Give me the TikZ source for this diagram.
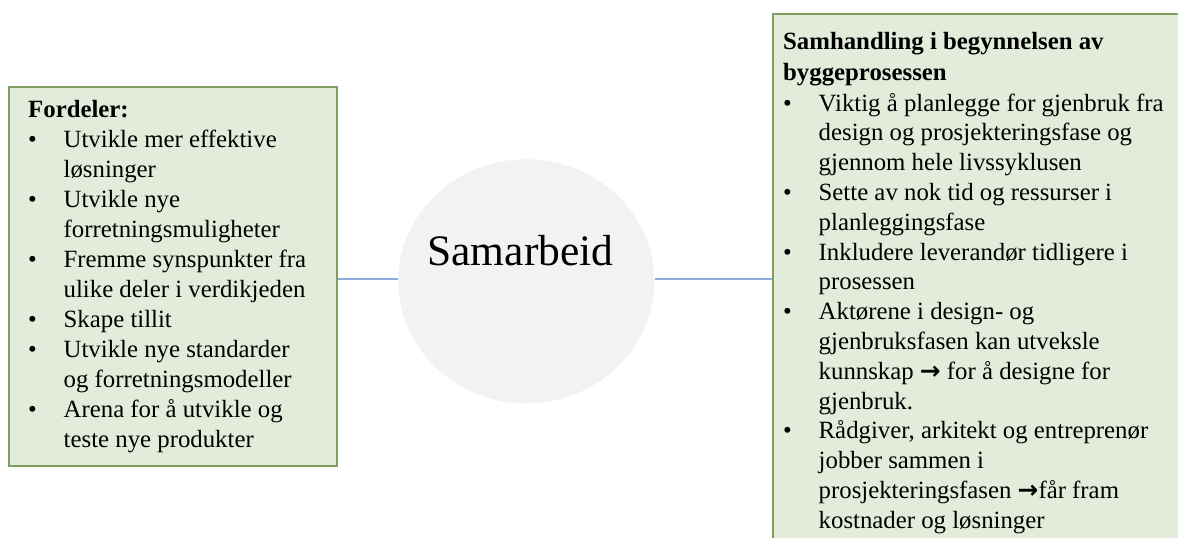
\documentclass[tikz,border=0pt]{standalone}
\usepackage{fontspec}
\setmainfont{Liberation Serif}
\newfontfamily\arrowfont{DejaVu Sans}
\usetikzlibrary{shapes.geometric}
\definecolor{boxfill}{RGB}{227,236,218}
\definecolor{boxline}{RGB}{128,160,98}
\definecolor{hubfill}{RGB}{242,242,242}
\definecolor{linkblue}{RGB}{143,170,220}
\newcommand{\rarr}{{\arrowfont\bfseries →}}

\begin{document}
\begin{tikzpicture}[x=1pt,y=-1pt,
  panel/.style={draw=boxline, fill=boxfill, line width=2pt, rectangle, inner sep=0pt},
  hub/.style={ellipse, fill=hubfill, draw=none, inner sep=0pt,
              minimum width=256pt, minimum height=244pt},
  link/.style={draw=linkblue, line width=1.3pt},
  body/.style={inner sep=0pt, anchor=base west, align=left}]
\useasboundingbox (0,0) rectangle (1178,538);
\clip (0,0) rectangle (1178,538);

% the two text panels
\node[panel, minimum width=328pt, minimum height=379.2pt, anchor=north west] (lbox) at (8.2,85.8) {};
\node[panel, minimum width=430pt, minimum height=560pt, anchor=north west] (rbox) at (772.2,12.5) {};

% central hub and its connectors
\node[hub] (hub) at (526.3,281.3) {};
\draw[link] ([yshift=2.3pt]hub.west) -- ([yshift=2.3pt]hub.west -| lbox.east);
\draw[link] ([yshift=2.3pt]hub.east) -- ([yshift=2.3pt]hub.east -| rbox.west);
\node[inner sep=0pt, anchor=base, font=\fontsize{43.5}{50}\selectfont] (hublabel) at (520.5,265) {Samarbeid};

% left panel text
\node[body, font=\fontsize{24.8}{30}\selectfont] (ltext) at (28,117) {%
\begin{tabular}[t]{@{}p{35.5pt}@{}l@{}}
\multicolumn{2}{@{}l@{}}{\textbf{Fordeler:}}\\
• & Utvikle mer effektive\\
  & løsninger\\
• & Utvikle nye\\
  & forretningsmuligheter\\
• & Fremme synspunkter fra\\
  & ulike deler i verdikjeden\\
• & Skape tillit\\
• & Utvikle nye standarder\\
  & og forretningsmodeller\\
• & Arena for å utvikle og\\
  & teste nye produkter
\end{tabular}};

% right panel text
\node[body, font=\fontsize{24.8}{29.8}\selectfont] (rtext) at (783,49) {%
\begin{tabular}[t]{@{}p{35.5pt}@{}l@{}}
\multicolumn{2}{@{}l@{}}{\textbf{Samhandling i begynnelsen av}}\\[1.2pt]
\multicolumn{2}{@{}l@{}}{\textbf{byggeprosessen}}\\[1.2pt]
• & Viktig å planlegge for gjenbruk fra\\
  & design og prosjekteringsfase og\\
  & gjennom hele livssyklusen\\
• & Sette av nok tid og ressurser i\\
  & planleggingsfase\\
• & Inkludere leverandør tidligere i\\
  & prosessen\\
• & Aktørene i design- og\\
  & gjenbruksfasen kan utveksle\\
  & kunnskap \rarr{} for å designe for\\
  & gjenbruk.\\
• & Rådgiver, arkitekt og entreprenør\\
  & jobber sammen i\\
  & prosjekteringsfasen \rarr får fram\\
  & kostnader og løsninger
\end{tabular}};
\end{tikzpicture}
\end{document}
